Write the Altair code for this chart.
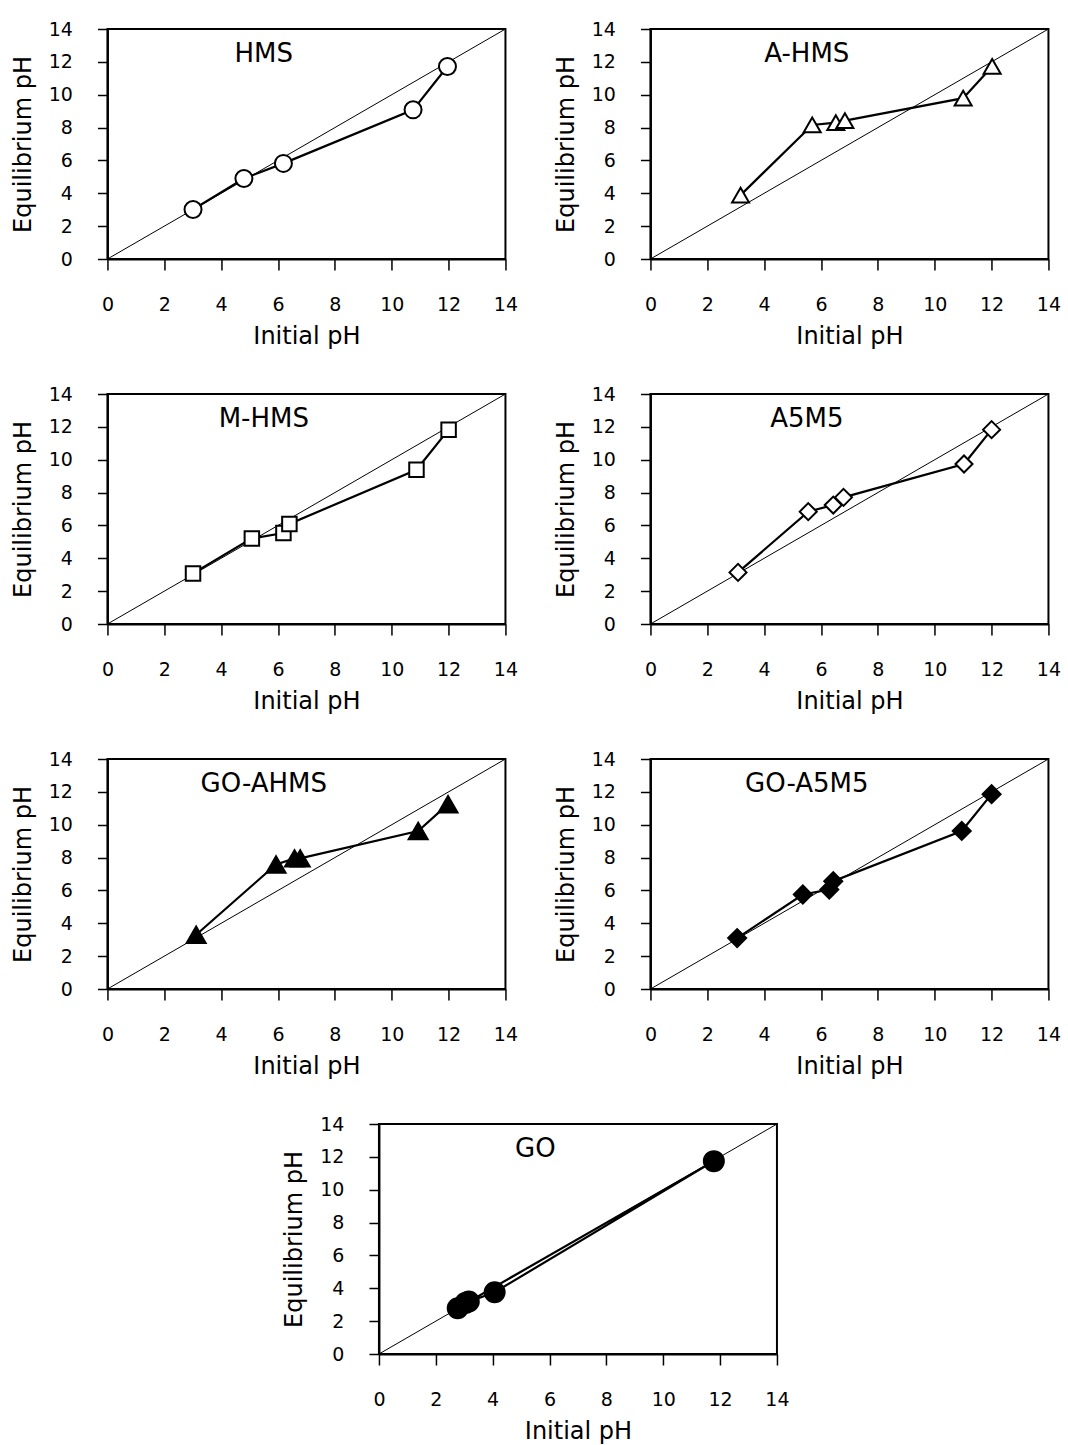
import altair as alt
import pandas as pd

FONT = "DejaVu Sans"

# ---- data ----
DIAG_X = [0, 14]
DIAG_Y = [0, 14]

HMS_x = [3.01, 4.80, 6.19, 10.75, 11.96]
HMS_y = [3.01, 4.90, 5.82, 9.08, 11.72]
HMS_o = [1, 2, 3, 4, 5]

AHMS_x = [3.17, 5.69, 6.52, 6.84, 11.00, 12.02]
AHMS_y = [3.89, 8.16, 8.30, 8.42, 9.79, 11.72]
AHMS_o = [1, 2, 3, 4, 5, 6]

MHMS_x = [3.01, 5.08, 6.19, 6.40, 10.87, 12.00]
MHMS_y = [3.08, 5.21, 5.54, 6.09, 9.39, 11.83]
MHMS_o = [1, 2, 3, 4, 5, 6]

A5M5_x = [3.08, 5.55, 6.43, 6.79, 11.03, 12.00]
A5M5_y = [3.14, 6.84, 7.24, 7.71, 9.74, 11.83]
A5M5_o = [1, 2, 3, 4, 5, 6]

GOAHMS_x = [3.12, 5.93, 6.58, 6.78, 10.93, 11.98]
GOAHMS_y = [3.30, 7.58, 7.95, 7.95, 9.62, 11.25]
GOAHMS_o = [1, 2, 3, 4, 5, 6]

GOA5M5_x = [3.05, 5.36, 6.29, 6.43, 10.95, 12.00]
GOA5M5_y = [3.10, 5.75, 6.05, 6.56, 9.62, 11.86]
GOA5M5_o = [1, 2, 3, 4, 5, 6]

GO_x = [2.77, 3.04, 3.16, 4.07, 11.78]
GO_y = [2.79, 3.11, 3.19, 3.76, 11.74]
GO_o = [1, 2, 5, 3, 4]

LABEL_X = 5.5
LABEL_Y = 12.45

TICKS = [0, 2, 4, 6, 8, 10, 12, 14]

W, H = 398, 230
LABEL_FS = 19

COMMON = dict(grid=False, labelFont=FONT, titleFont=FONT, labelFontSize=LABEL_FS,
              titleFontSize=24, titleFontWeight="normal", labelColor="black",
              titleColor="black", labelOverlap=False, labelFlush=False,
              domainColor="black", domainWidth=2, tickColor="black", tickWidth=1.5)


def enc_x():
    return alt.X("x:Q", scale=alt.Scale(domain=[0, 14], nice=False, zero=False),
                 axis=alt.Axis(values=TICKS, title="Initial pH", tickSize=11,
                               labelPadding=25, titlePadding=10, **COMMON))


def enc_y():
    return alt.Y("y:Q", scale=alt.Scale(domain=[0, 14], nice=False, zero=False),
                 axis=alt.Axis(values=TICKS, title="Equilibrium pH", tickSize=10,
                               labelPadding=25, titlePadding=13, **COMMON))


def panel(name, xs, ys, order, shape, filled, size):
    df = pd.DataFrame({"x": xs, "y": ys, "o": order})
    diag = alt.Chart(pd.DataFrame({"x": DIAG_X, "y": DIAG_Y})).mark_line(
        color="black", strokeWidth=1
    ).encode(x=enc_x(), y=enc_y())
    line = alt.Chart(df).mark_line(color="black", strokeWidth=2.2).encode(
        x=enc_x(), y=enc_y(), order="o:Q"
    )
    pts = alt.Chart(df).mark_point(
        shape=shape, filled=True, fill="black" if filled else "white",
        stroke="black", strokeWidth=2, size=size, opacity=1, fillOpacity=1
    ).encode(x=enc_x(), y=enc_y())
    txt = alt.Chart(pd.DataFrame({"x": [LABEL_X], "y": [LABEL_Y], "t": [name]})).mark_text(
        font=FONT, fontSize=26, align="center", baseline="middle", color="black"
    ).encode(x=enc_x(), y=enc_y(), text="t:N")
    return alt.layer(diag, line, pts, txt).properties(width=W, height=H)


p1 = panel("HMS", HMS_x, HMS_y, HMS_o, "circle", False, 289)
p2 = panel("A-HMS", AHMS_x, AHMS_y, AHMS_o, "triangle-up", False, 289)
p3 = panel("M-HMS", MHMS_x, MHMS_y, MHMS_o, "square", False, 210)
p4 = panel("A5M5", A5M5_x, A5M5_y, A5M5_o, "diamond", False, 289)
p5 = panel("GO-AHMS", GOAHMS_x, GOAHMS_y, GOAHMS_o, "triangle-up", True, 361)
p6 = panel("GO-A5M5", GOA5M5_x, GOA5M5_y, GOA5M5_o, "diamond", True, 324)
p7 = panel("GO", GO_x, GO_y, GO_o, "circle", True, 400)

SP = 33
row1 = alt.hconcat(p1, p2, spacing=SP)
row2 = alt.hconcat(p3, p4, spacing=SP)
row3 = alt.hconcat(p5, p6, spacing=SP)

chart = alt.vconcat(row1, row2, row3, p7, spacing=35, center=True).properties(
    padding={"left": 10, "top": 19, "right": 5, "bottom": 5},
    background="white",
).configure_view(
    stroke="black", strokeWidth=2
).configure_axis(
    labelFontSize=LABEL_FS, titleFontSize=24, labelOverlap=False, labelFont=FONT,
    titleFont=FONT, titleFontWeight="normal", grid=False,
)

chart.save("out.html", embed_options={"renderer": "svg", "actions": False})
